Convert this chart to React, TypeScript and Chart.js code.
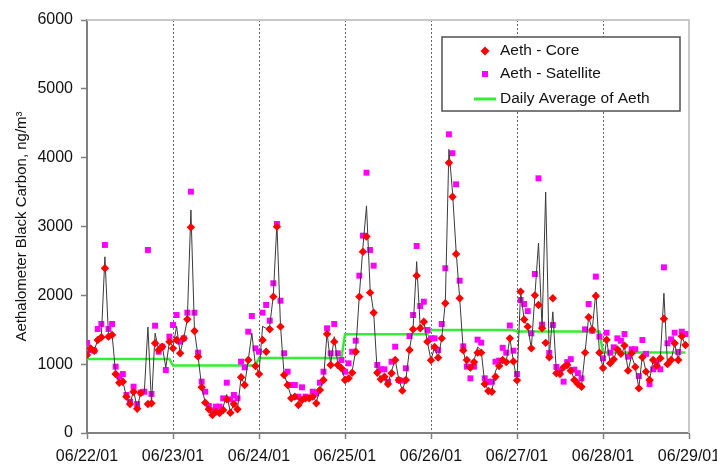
import { useEffect, useRef } from "react";
import { Chart, registerables } from "chart.js";

Chart.register(...registerables);

const dateLabels = ["06/22/01", "06/23/01", "06/24/01", "06/25/01", "06/26/01", "06/27/01", "06/28/01", "06/29/01"];

// Hourly values, 24 per day, 06/22 .. 06/28
const coreValues: (number | null)[] = [
  // 06/22
  1133, 1230, 1196, 1351, 1390, 2393, 1400, 1425, 857, 731, 745, 528, 421, 600, 353, 581, null, 421, 431, 1303, 1206, 1254, null, 1327,
  // 06/23
  1230, 1351, 1158, 1375, 1652, 2989, 1482, 1109, 664, 441, 344, 262, 310, 290, 334, 489, 295, 421, 344, 809, 697, 1061, null, 973,
  // 06/24
  857, 1351, 1181, 1506, 1981, 2998, 1545, 843, 697, 504, 528, 407, 479, 504, 504, 528, 431, 625, 770, 1438, 988, 1327, 988, 940,
  // 06/25
  770, 794, 876, 1181, 1981, 2634, 2853, 2039, 1748, 876, 780, 818, 712, 867, 1061, 770, 615, 770, 1206, 1506, 2286, 1521, 1617, 1327,
  // 06/26
  1056, 1250, 1095, 1375, 1884, 3927, 3433, 2601, 1957, 1200, 1061, 950, 1030, 1167, 1167, 712, 610, 600, 818, 973, 1061, 1030, 1375, 1040,
  // 06/27
  765, 2054, 1650, 1545, 1230, 2000, 1860, 1521, 1310, 1100, 1957, 867, 857, 954, 988, 906, 770, 712, 673, 1167, 1681, 1500, 1991, 1167,
  // 06/28
  945, 1355, 1012, 1070, 1215, 1150, 1270, 906, 1160, 960, 649, 1100, 891, 770, 1061, 975, 1085, 1660, 1000, 1060, 1303, 1061, 1405, 1278,
];

const satelliteValues: (number | null)[] = [
  // 06/22
  1308, 1206, 1196, 1511, 1584, 2732, 1511, 1584, 964, 820, 857, 552, 455, 673, 421, 586, 600, 2659, 567, 1559, 1181, 1254, 915, 1400,
  // 06/23
  1569, 1714, 1327, 1375, 1748, 3506, 1748, 1167, 746, 600, 392, 330, 383, 383, 504, 731, 489, 552, 504, 1036, 954, 1472, 1700, 1230,
  // 06/24
  1181, 1748, 1860, 1632, 2175, 3037, 1922, 1158, 891, 697, 697, 528, 664, 528, null, 600, 576, 731, 891, 1521, 1158, 1584, 1158, 1061,
  // 06/25
  891, 1012, 1181, 1341, 2286, 2867, 3782, 2659, 2431, 988, 925, 925, 746, 1036, 1254, 770, 760, 940, 1409, 1714, 2717, 1845, 1908, 1497,
  // 06/26
  1375, 1375, 1206, 1584, 2393, 4340, 4064, 3613, 2213, 1259, 964, 794, 964, 1356, 1312, 794, 745, 745, 1036, 1051, 1238, 1167, 1562, 1196,
  // 06/27
  857, 1932, 1874, 1770, 1448, 2310, 3700, 1574, null, 1162, 1569, 959, 906, 746, 1030, 1073, 920, 870, 794, 1506, 1874, 1486, 2272, 1400,
  // 06/28
  1085, 1457, 1167, 1245, 1375, 1340, 1438, 1109, 1216, 1216, 828, 1351, 1150, 712, 925, 1030, 925, 2407, 1303, 1361, 1457, 1178, 1472, 1438,
];

const traceValues: number[] = [
  // 06/22
  1130, 1220, 1200, 1350, 1400, 2560, 1400, 1430, 860, 730, 750, 530, 420, 620, 360, 590, 600, 1540, 420, 1450, 1200, 1260, 950, 1330,
  // 06/23
  1250, 1550, 1160, 1380, 1650, 3240, 1480, 1110, 670, 440, 345, 270, 310, 290, 380, 560, 300, 420, 350, 810, 700, 1060, 1450, 980,
  // 06/24
  870, 1550, 1520, 1560, 2000, 3050, 1550, 850, 700, 520, 560, 480, 520, 540, 540, 540, 450, 630, 780, 1460, 1000, 1400, 1000, 940,
  // 06/25
  780, 800, 900, 1200, 2000, 2700, 3300, 2100, 1750, 880, 790, 830, 720, 900, 1070, 780, 620, 780, 1220, 1520, 2490, 1520, 1620, 1320,
  // 06/26
  1060, 1250, 1090, 1380, 1900, 4120, 3500, 2650, 1960, 1200, 960, 900, 1050, 1250, 1200, 720, 620, 610, 900, 1000, 1080, 1040, 1380, 1040,
  // 06/27
  760, 2050, 1650, 1540, 1230, 2000, 2760, 1520, 3500, 1100, 1760, 870, 860, 960, 990, 910, 780, 720, 680, 1170, 1690, 1500, 2050, 1170,
  // 06/28
  950, 1360, 1010, 1070, 1230, 1120, 1260, 910, 1120, 960, 650, 1140, 890, 770, 1060, 990, 1090, 2030, 980, 1050, 1300, 1050, 1400, 1280,
];

const dailyAverage = [1075, 980, 1090, 1435, 1495, 1475, 1170];

const seriesNames = ["Aeth - Core", "Aeth - Satellite", "Daily Average of Aeth"];
const yTitle = "Aethalometer Black Carbon, ng/m\u00B3";

const HOURS = 24;
const FONT = "'Liberation Sans', Arial, sans-serif";

const toPoints = (arr: (number | null)[]) => arr.map((v, i) => ({ x: i, y: v }));

function drawDiamond(ctx: CanvasRenderingContext2D, x: number, y: number, r: number, color: string) {
  ctx.beginPath();
  ctx.moveTo(x, y - r);
  ctx.lineTo(x + r, y);
  ctx.lineTo(x, y + r);
  ctx.lineTo(x - r, y);
  ctx.closePath();
  ctx.fillStyle = color;
  ctx.fill();
}

const framePlugin = {
  id: "frame",
  beforeDatasetsDraw(chart: any) {
    const { ctx, chartArea: a } = chart;
    ctx.save();
    ctx.strokeStyle = "#c8c8c8";
    ctx.lineWidth = 2;
    ctx.beginPath();
    ctx.moveTo(a.left, a.top);
    ctx.lineTo(a.right, a.top);
    ctx.lineTo(a.right, a.bottom);
    ctx.stroke();
    ctx.restore();
  },
};

const legendPlugin = {
  id: "boxLegend",
  afterDraw(chart: any) {
    const { ctx, chartArea: a } = chart;
    const bx = a.right - 247;
    const by = a.top + 17;
    const bw = 238;
    const bh = 74;
    ctx.save();
    ctx.fillStyle = "#ffffff";
    ctx.fillRect(bx, by, bw, bh);
    ctx.strokeStyle = "#505050";
    ctx.lineWidth = 1.5;
    ctx.strokeRect(bx, by, bw, bh);
    const rows = [by + 14, by + 37, by + 62];
    const mx = bx + 43;
    drawDiamond(ctx, mx, rows[0], 4.5, "#ff0000");
    ctx.fillStyle = "#ff00ff";
    ctx.fillRect(mx - 3, rows[1] - 3, 6, 6);
    ctx.strokeStyle = "#33ee33";
    ctx.lineWidth = 3;
    ctx.beginPath();
    ctx.moveTo(bx + 32, rows[2]);
    ctx.lineTo(bx + 54, rows[2]);
    ctx.stroke();
    ctx.fillStyle = "#111";
    ctx.font = `15.5px ${FONT}`;
    ctx.textBaseline = "middle";
    ctx.textAlign = "left";
    seriesNames.forEach((n, i) => ctx.fillText(n, bx + 58, rows[i]));
    ctx.restore();
  },
};

export default function App() {
  const ref = useRef<HTMLCanvasElement>(null);
  useEffect(() => {
    if (!ref.current) return;
    const avgPoints = dailyAverage.flatMap((v, d) =>
      Array.from({ length: HOURS }, (_, h) => ({ x: d * HOURS + h, y: v }))
    );
    const total = dateLabels.length - 1;
    const chart = new Chart(ref.current, {
      type: "line",
      data: {
        datasets: [
          {
            label: seriesNames[0],
            data: toPoints(coreValues),
            showLine: false,
            pointStyle: "rectRot",
            pointRadius: 4.2,
            pointBackgroundColor: "#ff0000",
            pointBorderColor: "#ff0000",
            pointBorderWidth: 0,
            order: 0,
          },
          {
            label: "trace",
            data: toPoints(traceValues),
            borderColor: "#3a3a3a",
            borderWidth: 1,
            pointRadius: 0,
            tension: 0,
            order: 1,
          },
          {
            label: seriesNames[1],
            data: toPoints(satelliteValues),
            showLine: false,
            pointStyle: "rect",
            pointRadius: 4.2,
            pointBackgroundColor: "#ff00ff",
            pointBorderColor: "#ff00ff",
            pointBorderWidth: 0,
            order: 2,
          },
          {
            label: seriesNames[2],
            data: avgPoints,
            borderColor: "#33ee33",
            borderWidth: 2.5,
            pointRadius: 0,
            tension: 0,
            order: 3,
          },
        ] as any,
      },
      options: {
        animation: false,
        responsive: false,
        maintainAspectRatio: false,
        layout: { padding: { top: 20, right: 28, left: 0, bottom: 0 } },
        plugins: { legend: { display: false }, tooltip: { enabled: false }, title: { display: false } },
        scales: {
          x: {
            type: "linear",
            min: 0,
            max: total * HOURS,
            afterFit: (s: any) => {
              s.height = 31;
              s.paddingLeft = 0;
              s.paddingRight = 0;
            },
            ticks: {
              stepSize: HOURS,
              autoSkip: false,
              maxRotation: 0,
              padding: 8,
              color: "#111",
              font: { family: FONT, size: 16 },
              callback: (v: any) => dateLabels[Math.round(Number(v) / HOURS)] ?? "",
            },
            grid: {
              display: true,
              drawOnChartArea: true,
              drawTicks: true,
              tickLength: 6,
              tickColor: "#808080",
              tickWidth: 1.5,
              lineWidth: 1,
              color: (c: any) =>
                c.tick && (c.tick.value === 0 || c.tick.value === total * HOURS) ? "rgba(0,0,0,0)" : "#666666",
            },
            border: { display: true, color: "#808080", width: 2, dash: [2, 2] },
          },
          y: {
            type: "linear",
            min: 0,
            max: 6000,
            afterFit: (s: any) => {
              s.width = 87;
            },
            ticks: {
              stepSize: 1000,
              padding: 8,
              color: "#111",
              font: { family: FONT, size: 16 },
              callback: (v: any) => String(v),
            },
            grid: {
              display: true,
              drawOnChartArea: false,
              drawTicks: true,
              tickLength: 6,
              tickColor: "#808080",
              tickWidth: 1.5,
            },
            border: { display: true, color: "#808080", width: 2 },
            title: {
              display: true,
              text: yTitle,
              color: "#111",
              font: { family: FONT, size: 15 },
              padding: { top: 13, bottom: 0 },
            },
          },
        },
      },
      plugins: [framePlugin, legendPlugin],
    });
    return () => chart.destroy();
  }, []);
  return (
    <div style={{ position: "absolute", left: 0, top: 0, width: 717, height: 464, background: "#fff" }}>
      <canvas ref={ref} width={717} height={464} style={{ display: "block" }} />
    </div>
  );
}
